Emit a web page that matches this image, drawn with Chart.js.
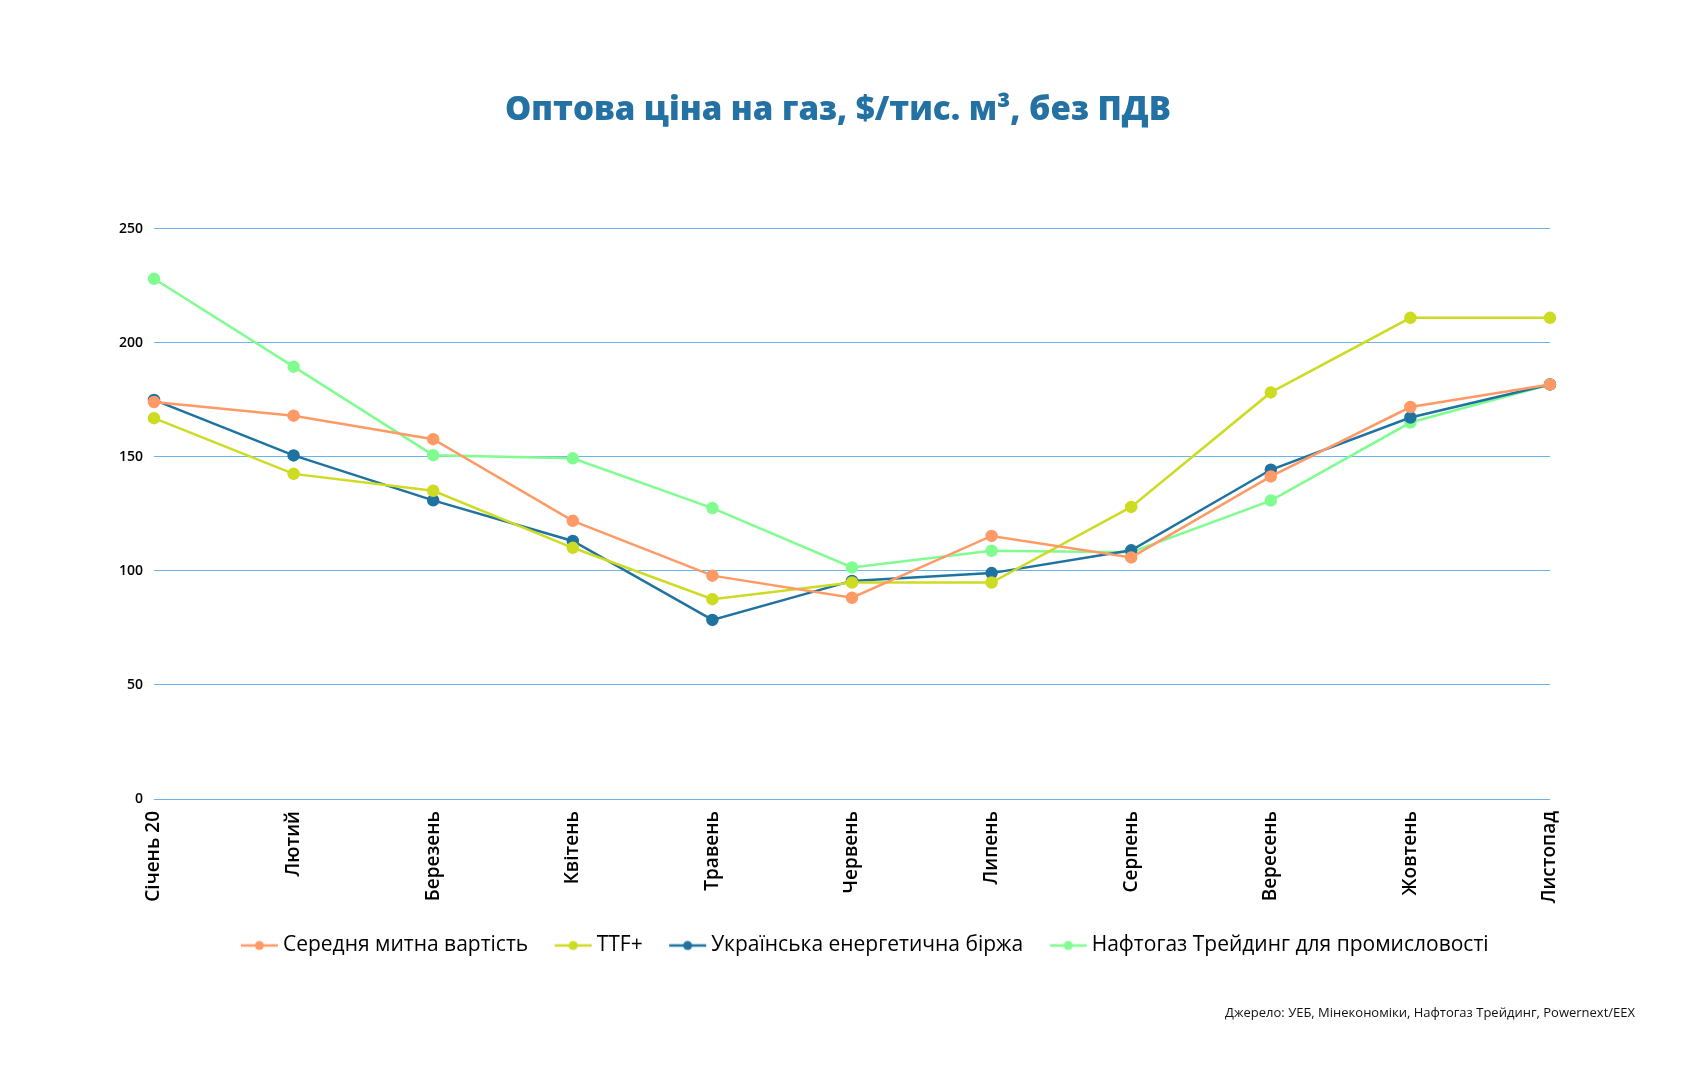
<!DOCTYPE html>
<html>
<head>
<meta charset="utf-8">
<script src="https://cdn.jsdelivr.net/npm/chart.js@4/dist/chart.umd.min.js"></script>
<style>
html,body{margin:0;padding:0;background:#fff;}
#wrap{position:relative;width:1684px;height:1080px;}
</style>
</head>
<body>
<div id="wrap"><canvas id="c" width="1684" height="1080"></canvas></div>
<script>
const categories = ['Січень 20','Лютий','Березень','Квітень','Травень','Червень','Липень','Серпень','Вересень','Жовтень','Листопад'];
const seriesNames = ['Середня митна вартість','TTF+','Українська енергетична біржа','Нафтогаз Трейдинг для промисловості'];
const customsValue = [174.0, 168.0, 157.7, 121.9, 97.9, 88.2, 115.3, 105.9, 141.4, 171.8, 181.7];
const ttfPlus      = [166.9, 142.5, 135.1, 110.1, 87.6, 94.9, 94.9, 128.0, 178.2, 210.9, 210.9];
const uebExchange  = [174.9, 150.6, 130.9, 113.1, 78.5, 95.6, 99.0, 109.0, 144.3, 167.2, 181.7];
const naftogazInd  = [228.0, 189.5, 150.7, 149.3, 127.5, 101.5, 108.8, 108.2, 130.8, 165.0, 181.7];
const yTicks = [0, 50, 100, 150, 200, 250];
const titleText = 'Оптова ціна на газ, $/тис. м³, без ПДВ';
const sourceText = 'Джерело: УЕБ, Мінекономіки, Нафтогаз Трейдинг, Powernext/EEX';

const colors = ['#ff9a66', '#cddb22', '#1e73a0', '#80fc90'];
const seriesData = [customsValue, ttfPlus, uebExchange, naftogazInd];

// legend icon: line with a dot, drawn in the right part of a wider canvas
function legendIcon(color){
  const cv = document.createElement('canvas');
  cv.width = 70; cv.height = 12;
  const g = cv.getContext('2d');
  g.strokeStyle = color; g.lineWidth = 2.5;
  g.beginPath(); g.moveTo(32,6); g.lineTo(69,6); g.stroke();
  g.fillStyle = color;
  g.beginPath(); g.arc(50.5,6,4.5,0,Math.PI*2); g.fill();
  return cv;
}
const icons = colors.map(legendIcon);

const sourcePlugin = {
  id: 'sourceText',
  afterDraw(chart){
    const ctx = chart.ctx;
    ctx.save();
    ctx.font = '13px "Open Sans", sans-serif';
    ctx.fillStyle = '#111';
    ctx.textAlign = 'right';
    ctx.textBaseline = 'middle';
    ctx.fillText(sourceText, 1635, 1013);
    ctx.restore();
  }
};

new Chart(document.getElementById('c'), {
  type: 'line',
  data: {
    labels: categories,
    datasets: seriesNames.map((name, i) => ({
      label: name,
      data: seriesData[i],
      borderColor: colors[i],
      backgroundColor: colors[i],
      pointBackgroundColor: colors[i],
      pointBorderColor: colors[i],
      pointRadius: 5,
      pointHoverRadius: 5,
      borderWidth: 2.5,
      tension: 0,
      fill: false,
      yAxisID: 'y'
    }))
  },
  options: {
    responsive: false,
    animation: false,
    devicePixelRatio: 1,
    layout: { padding: { left: 0, right: 8, top: 0, bottom: 114 } },
    plugins: {
      title: {
        display: true,
        text: titleText,
        color: '#2471a3',
        font: { family: '"Open Sans", sans-serif', size: 33, weight: '800' },
        padding: { top: 91, bottom: 98 }
      },
      legend: {
        position: 'bottom',
        fullSize: false,
        labels: {
          usePointStyle: true,
          pointStyleWidth: 57,
          padding: 1,
          color: '#000',
          font: { family: '"Open Sans", sans-serif', size: 21, weight: '500' },
          generateLabels(chart){
            return chart.data.datasets.map((ds, i) => ({
              text: ds.label,
              fillStyle: colors[i],
              strokeStyle: colors[i],
              pointStyle: icons[i],
              lineWidth: 0,
              hidden: false,
              datasetIndex: i,
              fontColor: '#000'
            }));
          }
        }
      },
      tooltip: { enabled: false }
    },
    scales: {
      x: {
        grid: { display: false, drawTicks: false },
        border: { display: false },
        ticks: {
          minRotation: 90, maxRotation: 90, padding: 12,
          color: '#000',
          font: { family: '"Open Sans", sans-serif', size: 19, weight: '600' }
        },
        afterFit(s){ s.height = 135; }
      },
      y: {
        position: 'left',
        min: 0, max: 250,
        afterBuildTicks(s){ s.ticks = yTicks.map(v => ({ value: v })); },
        grid: { color: '#6cb2ec', lineWidth: 1, drawTicks: false },
        border: { display: false },
        ticks: {
          padding: 11,
          color: '#000',
          font: { family: '"Open Sans", sans-serif', size: 14, weight: '600' }
        },
        afterFit(s){ s.width = 154; }
      },
      yRight: {
        position: 'right',
        min: 0, max: 250,
        grid: { display: false, drawTicks: false },
        border: { display: false },
        ticks: { display: false },
        afterFit(s){ s.width = 126; }
      }
    }
  },
  plugins: [sourcePlugin]
});
</script>
</body>
</html>
